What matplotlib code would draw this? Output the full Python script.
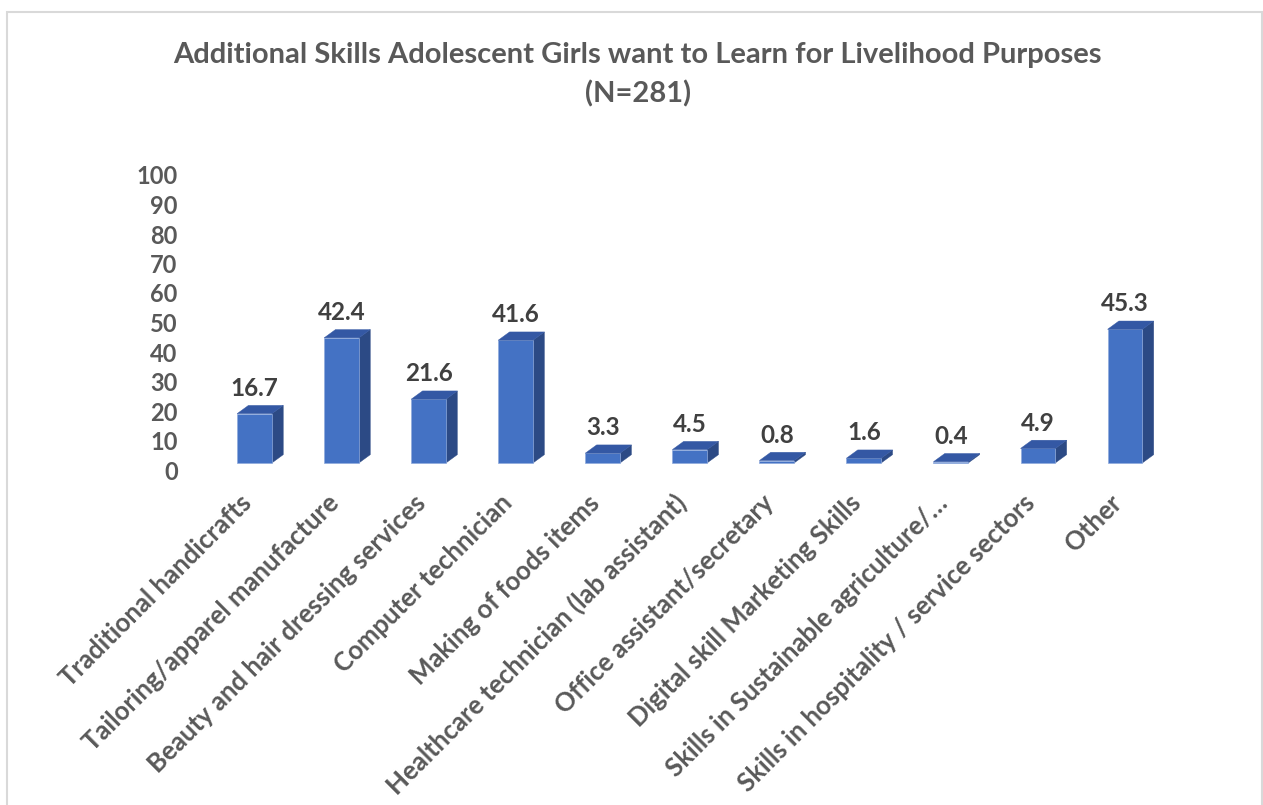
import numpy as np
import matplotlib.pyplot as plt
import matplotlib.transforms as mtransforms
from matplotlib.patches import Polygon, Rectangle

# data
categories = [
    "Traditional handicrafts",
    "Tailoring/apparel manufacture",
    "Beauty and hair dressing services",
    "Computer technician",
    "Making of foods items",
    "Healthcare technician (lab assistant)",
    "Office assistant/secretary",
    "Digital skill Marketing Skills",
    "Skills in Sustainable agriculture/\u2026",
    "Skills in hospitality / service sectors",
    "Other",
]
values = [16.7, 42.4, 21.6, 41.6, 3.3, 4.5, 0.8, 1.6, 0.4, 4.9, 45.3]
yticks = list(range(0, 101, 10))

title = "Additional Skills Adolescent Girls want to Learn for Livelihood Purposes\n(N=281)"

plt.rcParams['font.family'] = ['Lato', 'DejaVu Sans']

front_c = '#4472c4'
side_c = '#2c4a85'
top_c = '#3458a4'
edge_c = '#8faadc'
grey = '#595959'

fig = plt.figure(figsize=(12.63, 8.05), dpi=100)
ax = fig.add_axes([211 / 1263, 335 / 805, 957.5 / 1263, 295 / 805])

x = np.arange(len(values))
w = 0.40
base = 2.4   # front face floor sits a bit above the tick "0"
dx = 0.13    # 3d depth, x (data units)
dy = 2.8     # 3d depth, y (data units)

ax.bar(x, values, width=w, bottom=base, color=front_c, edgecolor=edge_c,
       linewidth=0.5, zorder=3)

for xi, v in zip(x, values):
    x0 = xi - w / 2
    x1 = xi + w / 2
    top = base + v
    side = Polygon([(x1, base), (x1 + dx, base + dy), (x1 + dx, top + dy), (x1, top)],
                   closed=True, facecolor=side_c, edgecolor=side_c, linewidth=0.3, zorder=2)
    lid = Polygon([(x0, top), (x0 + dx, top + dy), (x1 + dx, top + dy), (x1, top)],
                  closed=True, facecolor=top_c, edgecolor=top_c, linewidth=0.3, zorder=4)
    ax.add_patch(side)
    ax.add_patch(lid)
    ax.annotate(f"{v:.1f}", (xi, top + dy), xytext=(0, 4), textcoords='offset points',
                ha='center', va='bottom', fontsize=17.5, fontweight='bold', color='#404040')

ax.set_xlim(-0.5, len(values) - 0.5)
ax.set_ylim(0, 100)
ax.set_yticks(yticks)
ax.set_yticklabels([str(t) for t in yticks], fontsize=17, fontweight='bold', color=grey)
ax.tick_params(axis='y', length=0, pad=24)

ax.set_xticks(x)
ax.set_xticklabels(categories, rotation=45, ha='right', va='center',
                   rotation_mode='anchor', fontsize=18.5, fontweight='bold', color=grey)
ax.tick_params(axis='x', length=0, pad=21)
shift = mtransforms.ScaledTranslation(-7 / 100, 0, fig.dpi_scale_trans)
for lbl in ax.get_xticklabels():
    lbl.set_transform(lbl.get_transform() + shift)

for s in ax.spines.values():
    s.set_visible(False)

fig.text(0.505, 0.907, title, ha='center', va='center', fontsize=21,
         fontweight='bold', color=grey, linespacing=1.55)

# chart area border
fig.patches.append(Rectangle((7 / 1263, -0.02), 1255 / 1263, 0.02 + (805 - 12) / 805,
                             transform=fig.transFigure, fill=False,
                             edgecolor='#d9d9d9', linewidth=1.5))

fig.savefig('out.png', dpi=100)
